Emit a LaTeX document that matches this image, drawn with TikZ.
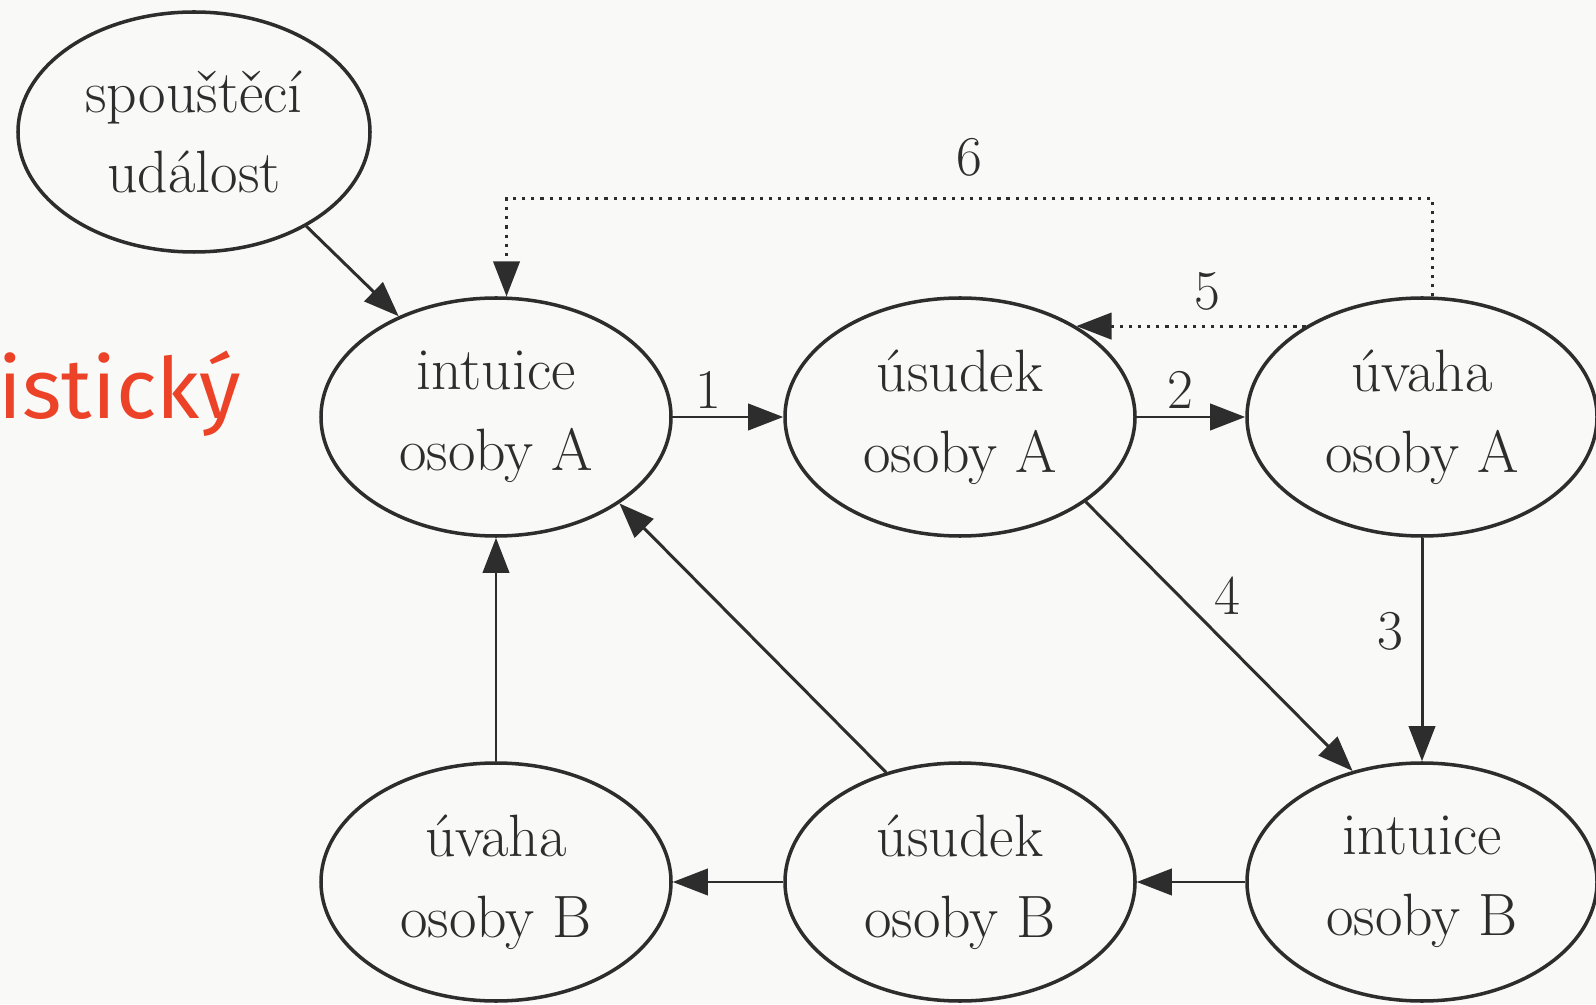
\documentclass[tikz,border=0pt]{standalone}
\usepackage{fontspec}
\usepackage{tikz}
\usetikzlibrary{shapes.geometric}
\usetikzlibrary{arrows.meta}
\newfontfamily\nadpisfont{Fira Sans}
\definecolor{cara}{RGB}{45,45,45}
\definecolor{papir}{RGB}{249,249,248}
\definecolor{cervena}{RGB}{236,66,40}
\tikzstyle{stav}=[draw=cara, line width=1pt, ellipse, inner sep=0pt, minimum width=3.5cm, minimum height=2.38cm, align=center, font=\fontsize{17}{23}\selectfont, text=cara]
\tikzstyle{sipka}=[draw=cara, line width=0.85pt, -{Triangle[length=10pt, width=7.5pt]}]
\tikzstyle{tecky}=[sipka, dash pattern=on 0.9pt off 1.7pt]
\tikzstyle{cislo}=[inner sep=2pt, font=\fontsize{16}{16}\selectfont, text=cara]

\begin{document}
\begin{tikzpicture}
        \fill[papir] (0, 0) rectangle (15.96, 10.04);
        \useasboundingbox (0, 0) rectangle (15.96, 10.04);
        \coordinate (vrch) at (0, 8.055);
        \node[anchor=base west, inner sep=0pt, text=cervena, font=\nadpisfont\fontsize{24}{24}\selectfont] (nazev) at (-0.02, 5.85) {istický};
        \node[stav, minimum width=3.52cm, minimum height=2.4cm] (trig) at (1.94, 8.72) {spouštěcí\\událost};
        \node[stav] (intA) at (4.96, 5.87) {intuice\\osoby A};
        \node[stav] (usA) at (9.60, 5.87) {úsudek\\osoby A};
        \node[stav] (uvA) at (14.22, 5.87) {úvaha\\osoby A};
        \node[stav] (uvB) at (4.96, 1.22) {úvaha\\osoby B};
        \node[stav] (usB) at (9.60, 1.22) {úsudek\\osoby B};
        \node[stav] (intB) at (14.22, 1.22) {intuice\\osoby B};
        \draw[sipka] (trig.-40) -- (intA.134);
        \draw[sipka] (intA) -- node[cislo, above, pos=0.32] {1} (usA);
        \draw[sipka] (usA) -- node[cislo, above, pos=0.4] {2} (uvA);
        \draw[sipka] (uvA) -- node[cislo, left=3pt, pos=0.42] {3} (intB);
        \draw[sipka] (usA.-34) -- node[cislo, above right, pos=0.45] {4} (intB.122);
        \draw[tecky] (uvA.142) -- node[cislo, above=2pt, pos=0.43] {5} (usA.38);
        \draw[tecky] (uvA.85) -- (uvA.85 |- vrch) -- node[cislo, above=4pt] {6} (intA.85 |- vrch) -- (intA.85);
        \draw[sipka] (intB) -- (usB);
        \draw[sipka] (usB) -- (uvB);
        \draw[sipka] (uvB) -- (intA);
        \draw[sipka] (usB.124) -- (intA.-35);
    \end{tikzpicture}
\end{document}
